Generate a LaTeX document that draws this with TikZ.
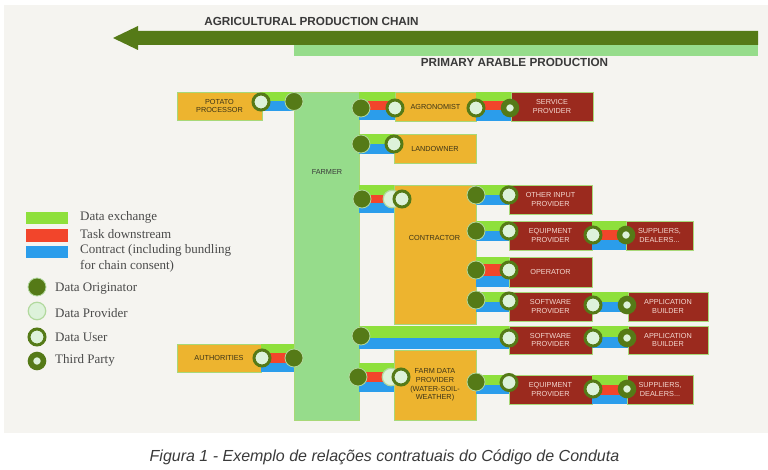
\documentclass[tikz,border=0pt]{standalone}
\usepackage{fontspec}
\setmainfont{Liberation Serif}
\newfontfamily\arialf{Liberation Sans}
\usetikzlibrary{calc}
\definecolor{cdark}{HTML}{557A17}
\definecolor{cbar}{HTML}{96DC8B}
\definecolor{cgreen}{HTML}{8EE03C}
\definecolor{cred}{HTML}{F2452B}
\definecolor{cblue}{HTML}{2B9DEB}
\definecolor{corange}{HTML}{EDB42F}
\definecolor{credbox}{HTML}{9B2A1E}
\definecolor{clight}{HTML}{DDF2DA}
\definecolor{cpanel}{HTML}{F5F4F0}
\definecolor{cedge}{HTML}{A8D878}
\definecolor{cringp}{HTML}{B2D99E}
\definecolor{ctxt}{HTML}{3C3418}
\definecolor{cpink}{HTML}{F4D8D0}
\definecolor{cgrey}{HTML}{3A3A3A}
\definecolor{clegend}{HTML}{4A4A4A}
\newcommand\bandtwo[4]{%
  \pgfmathsetmacro\bandmid{(#3+#4)/2}%
  \fill[cgreen] (#1.east |- 0,#3) rectangle (#2.west |- 0,\bandmid);
  \fill[cblue] (#1.east |- 0,\bandmid) rectangle (#2.west |- 0,#4);
}
\newcommand\bandthree[6]{%
  \fill[cgreen] (#1.east |- 0,#3) rectangle (#2.west |- 0,#4);
  \fill[cred] (#1.east |- 0,#4) rectangle (#2.west |- 0,#5);
  \fill[cblue] (#1.east |- 0,#5) rectangle (#2.west |- 0,#6);
}
\tikzset{
  box/.style={draw=cedge, line width=0.8pt, inner sep=0pt, outer sep=0pt, align=center,
    font=\arialf\fontsize{7.3}{8.6}\selectfont},
  obox/.style={box, fill=corange, text=ctxt},
  rbox/.style={box, fill=credbox, text=cpink},
  gbox/.style={box, fill=cbar, draw=cedge},
  rb/.style={rbox, minimum width=83pt, minimum height=29pt},
  dorig/.style={circle, inner sep=0pt, minimum size=18pt, fill=cdark, draw=cringp, line width=0.8pt},
  dprov/.style={circle, inner sep=0pt, minimum size=17.5pt, fill=clight, draw=cringp, line width=1.2pt},
  duser/.style={circle, inner sep=0pt, minimum size=16pt, fill=clight, draw=cdark, line width=3pt},
  dthird/.style={circle, inner sep=0pt, minimum size=13pt, fill=clight, draw=cdark, line width=5.5pt},
  legtxt/.style={anchor=west, inner sep=0pt, text=clegend, font=\fontsize{13}{15}\selectfont},
  title/.style={inner sep=0pt, text=cgrey, font=\arialf\bfseries\fontsize{11.7}{14}\selectfont},
}
\begin{document}
\begin{tikzpicture}[x=1pt,y=-1pt]
\useasboundingbox (0,0) rectangle (768,470);
\fill[white] (0,0) rectangle (768,470);
\fill[cpanel] (4,5) rectangle (768,433);
% chain arrow
\fill[cdark] (758,31) -- (138,31) -- (138,26) -- (113,38) -- (138,50) -- (138,45) -- (758,45) -- cycle;
\fill[cbar] (294,45) rectangle (758,56);
\node[title] (t1) at (311.5,21) {AGRICULTURAL PRODUCTION CHAIN};
\node[title] (t2) at (514.5,62.5) {PRIMARY ARABLE PRODUCTION};
% boxes
\node[gbox, minimum width=65pt, minimum height=328pt] (farmer) at (326.5,256) {};
\node[inner sep=0pt, text=cgrey, font=\arialf\fontsize{7.3}{8.6}\selectfont] (farmerlbl) at (327,172) {FARMER};
\node[obox, minimum width=85pt, minimum height=28pt] (potato) at (219.5,106) {POTATO\\PROCESSOR};
\node[obox, minimum width=81pt, minimum height=29pt] (agro) at (435.5,106.5) {AGRONOMIST};
\node[rbox, minimum width=82pt, minimum height=29pt] (service) at (552,106.5) {SERVICE\\PROVIDER};
\node[obox, minimum width=82pt, minimum height=29pt] (land) at (435,148.5) {LANDOWNER};
\node[obox, minimum width=82pt, minimum height=139pt] (contractor) at (435,254.5) {};
\node[inner sep=0pt, text=ctxt, font=\arialf\fontsize{7.3}{8.6}\selectfont] (contrlbl) at (434.5,238) {CONTRACTOR};
\node[rb] (other) at (550.5,199.5) {OTHER INPUT\\PROVIDER};
\node[rb] (equip1) at (550.5,235.5) {EQUIPMENT\\PROVIDER};
\node[rbox, minimum width=67pt, minimum height=29pt] (supp1) at (659.5,235.5) {SUPPLIERS,\\DEALERS...};
\node[rb, minimum height=30pt] (operator) at (550.5,272) {OPERATOR};
\node[rb] (soft1) at (550.5,306.5) {SOFTWARE\\PROVIDER};
\node[rbox, minimum width=80pt, minimum height=29pt] (app1) at (668,306.5) {APPLICATION\\BUILDER};
\node[rb, minimum height=28pt] (soft2) at (550.5,340) {SOFTWARE\\PROVIDER};
\node[rbox, minimum width=80pt, minimum height=28pt] (app2) at (668,340) {APPLICATION\\BUILDER};
\node[obox, minimum width=84pt, minimum height=28pt] (auth) at (219,358) {AUTHORITIES};
\node[obox, minimum width=82pt, minimum height=70pt] (farmdata) at (435,385) {FARM DATA\\PROVIDER\\(WATER-SOIL-\\WEATHER)};
\node[rb] (equip2) at (550.5,389.5) {EQUIPMENT\\PROVIDER};
\node[rbox, minimum width=66pt, minimum height=29pt] (supp2) at (660,389.5) {SUPPLIERS,\\DEALERS...};
% bands
\bandtwo{potato}{farmer}{92}{111}
\bandthree{farmer}{agro}{92}{101}{110}{120}
\bandthree{agro}{service}{92}{101.5}{110.5}{121}
\bandtwo{farmer}{land}{134}{154}
\bandthree{farmer}{contractor}{185}{195}{203}{213}
\bandtwo{contractor}{other}{185}{205}
\bandtwo{contractor}{equip1}{221}{241}
\bandthree{equip1}{supp1}{221}{230.5}{240}{250}
\bandthree{contractor}{operator}{257}{264}{276}{287}
\bandtwo{contractor}{soft1}{292}{312}
\bandtwo{soft1}{app1}{292}{312}
\bandtwo{farmer}{soft2}{326}{349}
\bandtwo{soft2}{app2}{326}{348}
\bandthree{auth}{farmer}{344}{353}{363}{372}
\bandthree{farmer}{farmdata}{363}{372}{382}{392}
\bandtwo{farmdata}{equip2}{375}{394}
\bandthree{equip2}{supp2}{375}{385}{395}{404}
% role markers
\node[duser] (m1) at (261,102) {};
\node[dorig] (m2) at (294,101.5) {};
\node[dorig] (m3) at (361,108) {};
\node[duser] (m4) at (395,108) {};
\node[duser] (m5) at (476,108) {};
\node[dthird] (m6) at (510,108) {};
\node[dorig] (m7) at (361,144) {};
\node[duser] (m8) at (394,144) {};
\node[dorig] (m9) at (362,199) {};
\node[dprov] (m10) at (392,199) {};
\node[duser] (m11) at (402,199) {};
\node[dorig] (m12) at (476,195) {};
\node[duser] (m13) at (509,195) {};
\node[dorig] (m14) at (476,231) {};
\node[duser] (m15) at (509,231) {};
\node[duser] (m16) at (593,235) {};
\node[dthird] (m17) at (626,235) {};
\node[dorig] (m18) at (476,270) {};
\node[duser] (m19) at (509,270) {};
\node[dorig] (m20) at (476,300) {};
\node[duser] (m21) at (509,301) {};
\node[duser] (m22) at (593,305) {};
\node[dthird] (m23) at (627,305) {};
\node[dorig] (m24) at (361,336) {};
\node[duser] (m25) at (509,338) {};
\node[duser] (m26) at (593,338) {};
\node[dthird] (m27) at (627,338) {};
\node[duser] (m28) at (262,358) {};
\node[dorig] (m29) at (294,358) {};
\node[dorig] (m30) at (358,377) {};
\node[dprov] (m31) at (391,377) {};
\node[duser] (m32) at (401,377) {};
\node[dorig] (m33) at (476,382) {};
\node[duser] (m34) at (509,382.5) {};
\node[duser] (m35) at (593,389) {};
\node[dthird] (m36) at (627,389) {};
% legend
\fill[cgreen] (26,212) rectangle (68,224);
\fill[cred] (26,229) rectangle (68,242);
\fill[cblue] (26,246) rectangle (68,258);
\node[legtxt] (l1) at (80,217) {Data exchange};
\node[legtxt] (l2) at (80,234) {Task downstream};
\node[legtxt] (l3) at (80,250) {Contract (including bundling};
\node[legtxt] (l4) at (80,266) {for chain consent)};
\node[dorig] (k1) at (37,287) {};
\node[dprov] (k2) at (37,311) {};
\node[duser] (k3) at (37,337) {};
\node[dthird] (k4) at (37,361) {};
\node[legtxt] (l5) at (55,289) {Data Originator};
\node[legtxt] (l6) at (55,313) {Data Provider};
\node[legtxt] (l7) at (55,337) {Data User};
\node[legtxt] (l8) at (55,360) {Third Party};
% caption
\node[inner sep=0pt, text=cgrey, font=\arialf\itshape\fontsize{16}{19}\selectfont] (caption) at (384.5,457) {Figura 1 - Exemplo de relações contratuais do Código de Conduta};
\end{tikzpicture}
\end{document}
